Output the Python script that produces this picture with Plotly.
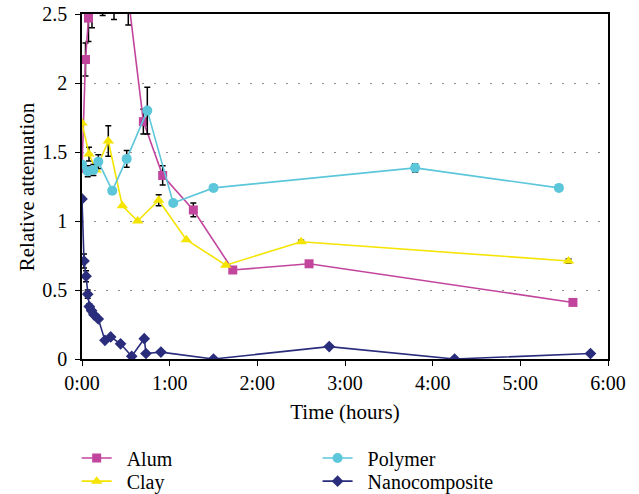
import plotly.graph_objects as go

# Time in hours, relative attenuation values
alum_t = [0.0, 0.04, 0.074, 0.114, 0.236, 0.365, 0.528, 0.70, 0.92, 1.27, 1.72, 2.59, 5.60]
alum_y = [1.38, 2.17, 2.47, 2.75, 2.60, 2.60, 2.62, 1.72, 1.33, 1.08, 0.645, 0.69, 0.41]
alum_e = [0.0, 0.12, 0.17, 0.35, 0.11, 0.14, 0.20, 0.09, 0.07, 0.05, 0.0, 0.0, 0.0]

clay_t = [0.0, 0.08, 0.16, 0.30, 0.46, 0.635, 0.875, 1.19, 1.64, 2.50, 5.55]
clay_y = [1.71, 1.485, 1.37, 1.58, 1.11, 1.0, 1.15, 0.865, 0.68, 0.85, 0.71]
clay_e = [0.0, 0.05, 0.0, 0.11, 0.0, 0.0, 0.04, 0.0, 0.0, 0.01, 0.015]

poly_t = [0.0, 0.065, 0.13, 0.186, 0.345, 0.51, 0.745, 1.04, 1.50, 3.80, 5.44]
poly_y = [1.41, 1.36, 1.37, 1.43, 1.22, 1.45, 1.80, 1.13, 1.24, 1.385, 1.24]
poly_e = [0.0, 0.04, 0.04, 0.05, 0.0, 0.06, 0.17, 0.0, 0.0, 0.03, 0.0]

nano_t = [0.0, 0.023, 0.046, 0.065, 0.083, 0.11, 0.137, 0.186, 0.262, 0.327,
          0.44, 0.567, 0.71, 0.73, 0.90, 1.50, 2.82, 4.25, 5.80]
nano_y = [1.16, 0.71, 0.60, 0.47, 0.38, 0.35, 0.32, 0.29, 0.135, 0.16,
          0.11, 0.02, 0.147, 0.04, 0.05, 0.0, 0.09, 0.0, 0.04]
nano_e = [0.0, 0.05, 0.04, 0.03, 0.02, 0.02, 0.0, 0.0, 0.0, 0.0,
          0.0, 0.0, 0.0, 0.0, 0.0, 0.0, 0.0, 0.0, 0.0]

x_ticks = [0, 1, 2, 3, 4, 5, 6]
x_labels = ["0:00", "1:00", "2:00", "3:00", "4:00", "5:00", "6:00"]
y_ticks = [0, 0.5, 1, 1.5, 2, 2.5]
y_labels = ["0", "0.5", "1", "1.5", "2", "2.5"]

FONT = "Liberation Serif"
NB = "\u00a0\u00a0"

# name, data, colour, symbol, size, legend id, legend x (container), legend y (container)
series = [
    ("Alum", alum_t, alum_y, alum_e, "#C2459D", "square", 9, "legend", 0.12, 0.073),
    ("Clay", clay_t, clay_y, clay_e, "#F5E400", "triangle-up", 10, "legend2", 0.12, 0.026),
    ("Polymer", poly_t, poly_y, poly_e, "#5CC6DB", "circle", 10, "legend3", 0.497, 0.073),
    ("Nanocomposite", nano_t, nano_y, nano_e, "#2A2D7C", "diamond", 9, "legend4", 0.497, 0.026),
]

fig = go.Figure()
legends = {}
for name, t, y, e, col, sym, sz, leg, lx, ly in series:
    fig.add_trace(go.Scatter(
        x=t, y=y, name=NB + name, mode="lines+markers",
        line=dict(color=col, width=1.6),
        marker=dict(color=col, symbol=sym, size=sz),
        error_y=dict(type="data", array=e, visible=True, color="black",
                     thickness=1.5, width=3),
        legend=leg,
    ))
    legends[leg] = dict(
        orientation="v", xref="container", yref="container",
        x=lx, xanchor="left", y=ly, yanchor="middle",
        font=dict(family=FONT, size=20), itemwidth=30,
        bgcolor="rgba(0,0,0,0)",
    )

fig.update_layout(
    width=639, height=494,
    margin=dict(l=82, r=31, t=14, b=135, autoexpand=False),
    paper_bgcolor="white", plot_bgcolor="white",
    font=dict(family=FONT, size=20, color="black"),
    showlegend=True,
    **legends,
    xaxis=dict(
        range=[0, 6], tickvals=x_ticks, ticktext=x_labels,
        showline=True, linecolor="black", linewidth=1.5, mirror=True,
        ticks="outside", ticklen=5, tickcolor="black",
        showgrid=False, zeroline=False, automargin=False,
        title=dict(text="Time (hours)", font=dict(size=21), standoff=12),
        tickfont=dict(size=20),
    ),
    yaxis=dict(
        range=[0, 2.5], tickvals=y_ticks, ticktext=y_labels,
        showline=True, linecolor="black", linewidth=1.5, mirror=True,
        ticks="outside", ticklen=5, tickcolor="black", ticklabelstandoff=4,
        showgrid=True, gridcolor="#8a8a8a", griddash="2px,10px", gridwidth=1.3,
        zeroline=False, automargin=False,
        tickfont=dict(size=20),
    ),
    annotations=[dict(
        text="Relative attenuation", textangle=-90, showarrow=False,
        xref="paper", yref="paper", x=-0.105, y=0.5,
        xanchor="center", yanchor="middle", font=dict(size=21),
    )],
)

fig.write_html("out.html")
